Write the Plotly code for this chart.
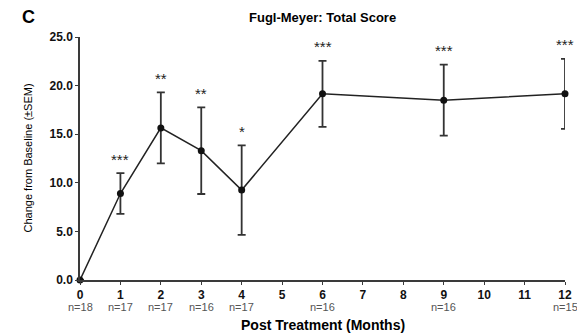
import plotly.graph_objects as go

months = [0, 1, 2, 3, 4, 6, 9, 12]
mean_change = [0.0, 8.9, 15.65, 13.3, 9.25, 19.15, 18.5, 19.15]
sem = [0.0, 2.1, 3.65, 4.45, 4.6, 3.4, 3.65, 3.6]
signif = ["", "***", "**", "**", "*", "***", "***", "***"]
n_labels = ["n=18", "n=17", "n=17", "n=16", "n=17", "n=16", "n=16", "n=15"]
tick_vals = list(range(0, 13))
y_ticks = [0, 5, 10, 15, 20, 25]

font_family = "Liberation Sans, Arial, sans-serif"
axis_color = "#3a3a3a"

fig = go.Figure()
fig.add_trace(go.Scatter(
    x=months, y=mean_change,
    mode="lines+markers",
    line=dict(color="#222222", width=1.5),
    marker=dict(color="#111111", size=7),
    error_y=dict(type="data", array=sem, visible=True, color="#333333",
                 thickness=1.8, width=4),
    showlegend=False,
    cliponaxis=False,
))

annotations = []
for m, v, s, sig in zip(months, mean_change, sem, signif):
    if sig:
        annotations.append(dict(x=m, y=v + s, xref="x", yref="y", text=sig,
                                showarrow=False, yshift=14, yanchor="middle",
                                font=dict(family=font_family, size=15, color="#222222")))
for m, n in zip(months, n_labels):
    annotations.append(dict(x=m, y=0, xref="x", yref="paper", text=n,
                            showarrow=False, yshift=-27, yanchor="middle",
                            font=dict(family=font_family, size=11, color="#555555")))
annotations.append(dict(x=0.5, y=1, xref="paper", yref="paper",
                        text="<b>Fugl-Meyer: Total Score</b>", showarrow=False,
                        yshift=20, yanchor="middle",
                        font=dict(family=font_family, size=13, color="#000000")))
annotations.append(dict(x=0.5, y=0, xref="paper", yref="paper",
                        text="<b>Post Treatment (Months)</b>", showarrow=False,
                        yshift=-45, yanchor="middle",
                        font=dict(family=font_family, size=14, color="#000000")))
annotations.append(dict(x=0, y=0.5, xref="paper", yref="paper",
                        text="Change from Baseline (±SEM)", showarrow=False,
                        xshift=-53, textangle=-90, xanchor="center", yanchor="middle",
                        font=dict(family=font_family, size=11, color="#000000")))
annotations.append(dict(x=0, y=1, xref="paper", yref="paper", text="<b>C</b>",
                        showarrow=False, xshift=-60, yshift=20, xanchor="left", yanchor="middle",
                        font=dict(family=font_family, size=18, color="#000000")))

fig.update_layout(
    width=577, height=333,
    margin=dict(l=80, r=12, t=37, b=53),
    paper_bgcolor="white", plot_bgcolor="white",
    font=dict(family=font_family, color="#000000"),
    annotations=annotations,
    xaxis=dict(
        range=[0, 12], tickvals=tick_vals,
        ticktext=[f"<b>{t}</b>" for t in tick_vals],
        showgrid=False, zeroline=False, automargin=False,
        showline=True, linecolor=axis_color, linewidth=1.5,
        ticks="outside", ticklen=3, tickcolor=axis_color, tickwidth=1.2,
        tickfont=dict(family=font_family, size=12, color="#111111"),
    ),
    yaxis=dict(
        range=[0, 25], tickvals=y_ticks,
        ticktext=[f"<b>{t:.1f}</b>" for t in y_ticks],
        showgrid=False, zeroline=False, automargin=False,
        showline=True, linecolor=axis_color, linewidth=1.5,
        ticks="outside", ticklen=3, tickcolor=axis_color, tickwidth=1.2,
        tickfont=dict(family=font_family, size=12, color="#111111"),
    ),
)

fig.write_html("out.html",
               config={"displayModeBar": False},
               post_script="document.body.style.margin='0';document.body.style.overflow='hidden';")
